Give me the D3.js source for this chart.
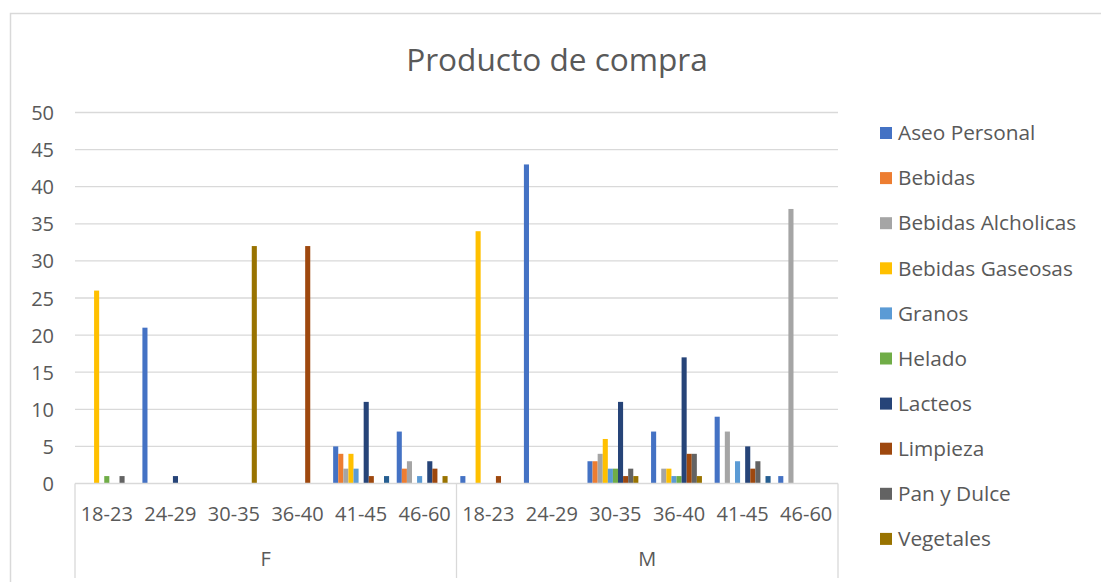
<!DOCTYPE html>
<html>
<head>
<meta charset="utf-8">
<script src="https://cdn.jsdelivr.net/npm/d3@7"></script>
<style>
  html, body { margin: 0; padding: 0; background: #fff; }
  svg { display: block; }
  text { font-family: "Open Sans", "Noto Sans", sans-serif; fill: #595959; }
</style>
</head>
<body>
<svg id="chart" width="1101" height="582"></svg>
<script>
// Gender groups and age ranges (two-level category axis)
const groups = ["F", "M"];
const ages = ["18-23", "24-29", "30-35", "36-40", "41-45", "46-60"];

// Product series, in legend order
const seriesNames = ["Aseo Personal", "Bebidas", "Bebidas Alcholicas", "Bebidas Gaseosas",
  "Granos", "Helado", "Lacteos", "Limpieza", "Pan y Dulce", "Vegetales", "Otros"];
const seriesColors = ["#4472C4", "#ED7D31", "#A5A5A5", "#FFC000", "#5B9BD5",
  "#70AD47", "#264478", "#9E480E", "#636363", "#997300", "#255E91"];

// Counts per series: F 18-23 … F 46-60, then M 18-23 … M 46-60
const aseoPersonal      = [0, 21, 0, 0, 5, 7,   1, 43, 3, 7, 9, 1];
const bebidas           = [0, 0, 0, 0, 4, 2,    0, 0, 3, 0, 0, 0];
const bebidasAlcholicas = [0, 0, 0, 0, 2, 3,    0, 0, 4, 2, 7, 37];
const bebidasGaseosas   = [26, 0, 0, 0, 4, 0,   34, 0, 6, 2, 0, 0];
const granos            = [0, 0, 0, 0, 2, 1,    0, 0, 2, 1, 3, 0];
const helado            = [1, 0, 0, 0, 0, 0,    0, 0, 2, 1, 0, 0];
const lacteos           = [0, 1, 0, 0, 11, 3,   0, 0, 11, 17, 5, 0];
const limpieza          = [0, 0, 0, 32, 1, 2,   1, 0, 1, 4, 2, 0];
const panYDulce         = [1, 0, 0, 0, 0, 0,    0, 0, 2, 4, 3, 0];
const vegetales         = [0, 0, 32, 0, 0, 1,   0, 0, 1, 1, 0, 0];
const otros             = [0, 0, 0, 0, 1, 0,    0, 0, 0, 0, 1, 0];

const seriesValues = [aseoPersonal, bebidas, bebidasAlcholicas, bebidasGaseosas, granos,
  helado, lacteos, limpieza, panYDulce, vegetales, otros];

const yTicks = [0, 5, 10, 15, 20, 25, 30, 35, 40, 45, 50];
const legendCount = 10; // legend box only has room for the first ten entries

const svg = d3.select("#chart");

// Outer chart border (extends past the visible area on right and bottom)
svg.append("rect")
  .attr("x", 10.5).attr("y", 13.5)
  .attr("width", 1200).attr("height", 700)
  .attr("fill", "none").attr("stroke", "#d9d9d9").attr("stroke-width", 1.5);

// Title
svg.append("text")
  .attr("x", 557).attr("y", 71)
  .attr("text-anchor", "middle")
  .attr("font-size", 31.6)
  .text("Producto de compra");

const plotLeft = 75, plotRight = 838, plotTop = 112.5, plotBottom = 483.5;

const categories = [];
groups.forEach(g => ages.forEach(a => categories.push(g + "|" + a)));

const x = d3.scaleBand().domain(categories).range([plotLeft, plotRight]).padding(0);
const xInner = d3.scaleBand().domain(seriesNames).range([0, x.bandwidth()])
  .paddingInner(0).paddingOuter(0.75);
const y = d3.scaleLinear().domain([0, 50]).range([plotBottom, plotTop]);

// Gridlines
svg.append("g").selectAll("line").data(yTicks.filter(t => t > 0)).join("line")
  .attr("x1", plotLeft).attr("x2", plotRight)
  .attr("y1", d => y(d)).attr("y2", d => y(d))
  .attr("stroke", "#d9d9d9").attr("stroke-width", 1.3);

// Y axis labels
const yAxis = d3.axisLeft(y).tickValues(yTicks).tickSize(0).tickPadding(0);
const yg = svg.append("g").attr("transform", `translate(${plotLeft - 21},0)`).call(yAxis);
yg.select(".domain").remove();
yg.selectAll("text").attr("font-size", 20).attr("fill", "#595959")
  .attr("font-family", "Open Sans, sans-serif").attr("dy", "0.35em");

// Bars
const barData = [];
seriesNames.forEach((s, si) => {
  seriesValues[si].forEach((v, ci) => {
    if (v > 0) barData.push({ series: s, color: seriesColors[si], cat: categories[ci], value: v });
  });
});
svg.append("g").selectAll("rect").data(barData).join("rect")
  .attr("x", d => x(d.cat) + xInner(d.series))
  .attr("width", xInner.bandwidth())
  .attr("y", d => y(d.value))
  .attr("height", d => y(0) - y(d.value))
  .attr("fill", d => d.color);

// Category axis baseline
svg.append("line")
  .attr("x1", plotLeft).attr("x2", plotRight)
  .attr("y1", plotBottom).attr("y2", plotBottom)
  .attr("stroke", "#d9d9d9").attr("stroke-width", 1.3);

// Group separators on the two-level axis
const groupEdges = [0, ages.length, categories.length].map(i =>
  i < categories.length ? x(categories[i]) : plotRight);
svg.append("g").selectAll("line").data(groupEdges).join("line")
  .attr("x1", d => d).attr("x2", d => d)
  .attr("y1", plotBottom).attr("y2", 578)
  .attr("stroke", "#d9d9d9").attr("stroke-width", 1.3);

// Age labels
svg.append("g").selectAll("text").data(categories).join("text")
  .attr("x", d => x(d) + x.bandwidth() / 2)
  .attr("y", 521)
  .attr("text-anchor", "middle")
  .attr("font-size", 20)
  .text(d => d.split("|")[1]);

// Gender labels
svg.append("g").selectAll("text").data(groups).join("text")
  .attr("x", (g, i) => (groupEdges[i] + groupEdges[i + 1]) / 2)
  .attr("y", 566)
  .attr("text-anchor", "middle")
  .attr("font-size", 20)
  .text(d => d);

// Legend
const legend = svg.append("g").selectAll("g")
  .data(seriesNames.slice(0, legendCount)).join("g")
  .attr("transform", (d, i) => `translate(880,${133 + i * 45.1})`);
legend.append("rect")
  .attr("x", 0).attr("y", -6).attr("width", 12).attr("height", 12)
  .attr("fill", (d, i) => seriesColors[i]);
legend.append("text")
  .attr("x", 18).attr("y", 0).attr("dy", "0.35em")
  .attr("font-size", 20.8)
  .text(d => d);
</script>
</body>
</html>
